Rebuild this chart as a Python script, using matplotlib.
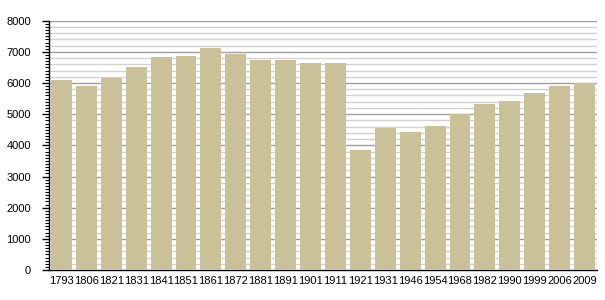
import matplotlib
matplotlib.use('Agg')
import matplotlib.pyplot as plt
from matplotlib.ticker import MultipleLocator

years = ['1793', '1806', '1821', '1831', '1841', '1851', '1861', '1872', '1881', '1891', '1901',
         '1911', '1921', '1931', '1946', '1954', '1968', '1982', '1990', '1999', '2006', '2009']
population = [6100, 5900, 6170, 6515, 6836, 6868, 7125, 6932, 6740, 6740, 6653,
              6653, 3851, 4567, 4429, 4621, 4997, 5327, 5424, 5680, 5905, 5992]

plt.rcParams['font.family'] = ['Liberation Sans', 'DejaVu Sans']

fig = plt.figure(figsize=(6.05, 3.0), dpi=100)
ax = fig.add_axes([49 / 605, 30 / 300, 548 / 605, 249.3 / 300])

x = range(len(years))
ax.bar(x, population, width=0.84, color='#cbc199', zorder=3)

ax.set_xlim(-0.5, len(years) - 0.5)
ax.set_ylim(0, 8000)
ax.set_xticks(list(x))
ax.set_xticklabels(years, fontsize=8)
ax.tick_params(axis='x', length=0, pad=4)

ax.yaxis.set_major_locator(MultipleLocator(1000))
ax.yaxis.set_minor_locator(MultipleLocator(100))
ax.tick_params(axis='y', which='major', length=5, width=1, labelsize=8, pad=8)
ax.tick_params(axis='y', which='minor', length=3, width=0.8)

# grid: darker every 1000, lighter every 200
for v in range(200, 8001, 200):
    if v % 1000 == 0:
        ax.axhline(v, color='#a0a0a0', lw=1.0, zorder=1)
    else:
        ax.axhline(v, color='#d2d2d2', lw=1.0, zorder=1)

ax.spines['top'].set_visible(False)
ax.spines['right'].set_visible(False)
ax.spines['left'].set_linewidth(1.0)
ax.spines['bottom'].set_linewidth(1.0)

fig.savefig('out.png', dpi=100)
